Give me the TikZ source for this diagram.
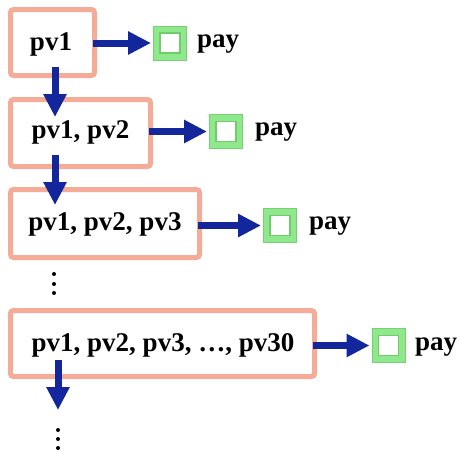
\documentclass[tikz,border=0pt]{standalone}
\usepackage{fontspec}
\setmainfont{Liberation Serif}
\usetikzlibrary{arrows.meta,calc}
\definecolor{salmon}{HTML}{F4AC98}
\definecolor{arrowblue}{HTML}{13269C}
\definecolor{lgreen}{HTML}{8FE88B}
\definecolor{dgreen}{HTML}{6FCB6C}
\begin{document}
\begin{tikzpicture}[x=1pt,y=-1pt,
  txt/.style={font=\fontsize{27}{30}\selectfont\bfseries, text=black},
  pvbox/.style={draw=salmon, line width=5pt, rounded corners=3pt, fill=white, inner sep=0pt},
  pvtxt/.style={txt, inner sep=0pt},
  harrow/.style={draw=arrowblue, line width=7pt, -{Triangle[length=23pt,width=22pt]}, shorten >=2pt, shorten <=-4pt},
  varrow/.style={draw=arrowblue, line width=7pt, -{Triangle[length=23pt,width=22pt]}},
  paysq/.style={draw=dgreen!80!lgreen, line width=1pt, fill=lgreen, minimum width=33pt, minimum height=34pt, inner sep=0pt},
  inner/.style={draw=dgreen, line width=1.2pt, fill=white, minimum size=20pt, inner sep=0pt},
  paytxt/.style={txt, anchor=west, inner sep=0pt},
  dot/.style={circle, fill=black, inner sep=0pt, minimum size=4pt}
]
\useasboundingbox (0,0) rectangle (459,451);

% boxes
\node[pvbox, minimum width=84pt, minimum height=66pt] (b1) at (52.5,42.5) {};
\node[pvtxt] (t1) at (51,44) {pv1};
\node[pvbox, minimum width=140pt, minimum height=67pt] (b2) at (80.5,133) {};
\node[pvtxt] (t2) at (80.5,132) {pv1, pv2};
\node[pvbox, minimum width=189pt, minimum height=68pt] (b3) at (105,223.5) {};
\node[pvtxt] (t3) at (105,224) {pv1, pv2, pv3};
\node[pvbox, minimum width=304pt, minimum height=66pt] (b4) at (162.5,343.5) {};
\node[pvtxt] (t4) at (163,345) {pv1, pv2, pv3, \ldots, pv30};

% pay squares
\node[paysq] (s1) at (170,43) {};
\node[inner] (i1) at (s1.center) {};
\node[paytxt] (p1) at (197,44) {pay};
\node[paysq] (s2) at (226,131.5) {};
\node[inner] (i2) at (s2.center) {};
\node[paytxt] (p2) at (255,132.5) {pay};
\node[paysq] (s3) at (280,225.5) {};
\node[inner] (i3) at (s3.center) {};
\node[paytxt] (p3) at (309,226) {pay};
\node[paysq] (s4) at (388.5,345.5) {};
\node[inner] (i4) at (s4.center) {};
\node[paytxt] (p4) at (415,347.5) {pay};

% horizontal arrows
\draw[harrow] (b1.east |- s1.west) -- (s1.west);
\draw[harrow] (b2.east |- s2.west) -- (s2.west);
\draw[harrow] (b3.east |- s3.west) -- (s3.west);
\draw[harrow] (b4.east |- s4.west) -- (s4.west);

% vertical arrows
\coordinate (v1s) at (55,67);  \coordinate (v1e) at (55,117);
\coordinate (v2s) at (55,155); \coordinate (v2e) at (55,205);
\coordinate (v3s) at (58,360); \coordinate (v3e) at (58,410);
\draw[varrow] (v1s) -- (v1e);
\draw[varrow] (v2s) -- (v2e);
\draw[varrow] (v3s) -- (v3e);

% dots
\node[dot] (d1) at (54,274) {};
\node[dot] (d2) at (54,284) {};
\node[dot] (d3) at (54,293) {};
\node[dot] (d4) at (58,430) {};
\node[dot] (d5) at (58,439) {};
\node[dot] (d6) at (58,448) {};
\end{tikzpicture}
\end{document}
